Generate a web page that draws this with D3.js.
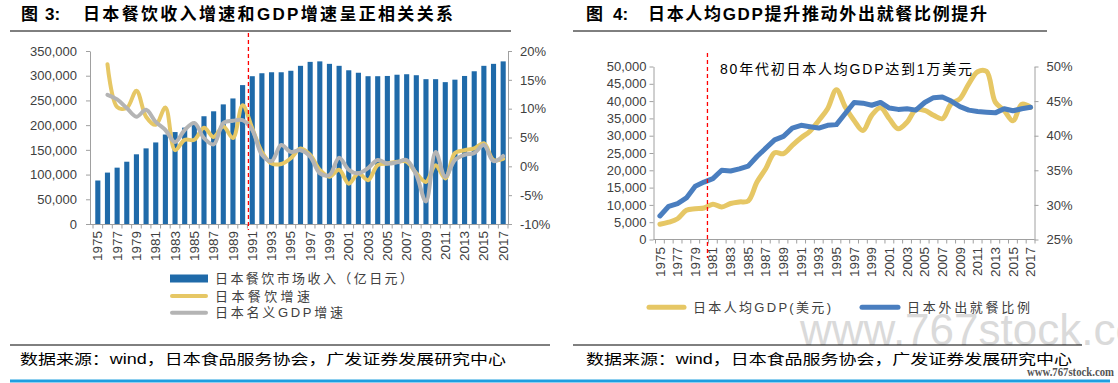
<!DOCTYPE html>
<html><head><meta charset="utf-8">
<script src="https://cdn.jsdelivr.net/npm/d3@7"></script>
<style>
html,body{margin:0;padding:0;background:#fff;}
svg{display:block;}
</style></head><body>
<svg id="c" width="1118" height="383"></svg>
<script>
// ---------- DATA ----------
const years = ["1975","1976","1977","1978","1979","1980","1981","1982","1983","1984","1985","1986","1987","1988","1989","1990","1991","1992","1993","1994","1995","1996","1997","1998","1999","2000","2001","2002","2003","2004","2005","2006","2007","2008","2009","2010","2011","2012","2013","2014","2015","2016","2017"];
const yearTickLabels = ["1975","1977","1979","1981","1983","1985","1987","1989","1991","1993","1995","1997","1999","2001","2003","2005","2007","2009","2011","2013","2015","2017"];

// Figure 3
const restaurantRevenue = [88000,104000,114000,126000,141000,153000,165000,181000,186000,195000,201000,218000,228000,242000,254000,281000,299000,305000,307000,307000,310000,320000,328000,329000,324000,320000,311000,306000,299000,299000,299500,302000,303000,301000,293000,293000,287000,292000,299500,309000,320000,324000,329000];
const restaurantGrowth = [null,17.7,10.3,10.1,13.1,8.6,7.2,10.2,2.8,4.6,4.6,6.7,5.1,6.9,4.9,10.6,6.6,2.5,0.5,0.4,1.4,3.1,2.0,-0.6,-1.8,-0.6,-3.0,-1.2,-2.4,0.2,0.5,0.8,0.8,-1.2,-2.7,0.2,-2.1,2.3,2.8,3.1,4.0,1.1,1.3];
const gdpGrowth = [null,12.4,11.6,10.1,8.6,9.8,7.7,6.3,4.2,6.3,7.5,4.9,3.8,7.5,7.9,8.0,6.3,2.0,0.9,3.7,2.5,2.8,1.7,-1.2,-1.5,1.5,-0.6,-1.2,-0.3,1.1,0.5,0.7,1.1,-1.5,-6.1,2.5,-1.8,1.1,2.0,2.3,3.7,0.9,1.8];
const revenueTicks = [0,50000,100000,150000,200000,250000,300000,350000];
const pctTicks = [-10,-5,0,5,10,15,20];

// Figure 4
const gdpPerCapita = [4400,5000,6000,8450,8900,9100,10200,9400,10400,10850,11150,16600,20500,25100,24800,27200,29400,31300,34400,37800,43300,38300,34400,31500,35900,38100,34900,32000,33900,37500,37300,35900,34900,39200,40700,45000,48500,48600,39700,37300,34300,39100,38200];
const eatingOutShare = [28.4,29.8,30.2,31.0,32.7,33.3,33.8,35.0,34.9,35.2,35.6,37.0,38.2,39.4,39.9,41.1,41.5,41.3,41.1,41.5,41.6,43.2,44.8,44.7,44.4,44.8,44.0,43.8,43.9,43.7,44.8,45.5,45.6,45.0,44.2,43.7,43.5,43.4,43.3,43.9,43.6,43.9,44.1];
const gdpPcTicks = [0,5000,10000,15000,20000,25000,30000,35000,40000,45000,50000];
const shareTicks = [25,30,35,40,45,50];

// ---------- STYLE ----------
const LAT = "'Liberation Sans', Arial, 'Noto Sans CJK SC', sans-serif";
const CJK = "'Liberation Sans', 'Noto Sans CJK SC', sans-serif";
const AXIS = "#A0A0A0";
const TXT = "#404040";
const BAR = "#1F6AA9";
const YEL = "#E6C765";
const GRY = "#B4B4B4";
const BLU = "#4A7EBF";

const svg = d3.select("#c");
svg.append("rect").attr("width",1118).attr("height",383).attr("fill","#fff");

// watermark (behind)
svg.append("text").attr("x",800).attr("y",345).attr("font-family",LAT).attr("font-size",44)
  .attr("fill","#DADADA").text("www.767stock.com");

// ---------- TITLES ----------
function title(x0, xNum, xMain, num, main, len){
  const g = svg.append("g").attr("font-family",CJK).attr("font-weight",700).attr("fill","#000").attr("font-size",17);
  g.append("text").attr("x",x0).attr("y",20).text("图");
  g.append("text").attr("x",xNum).attr("y",20).text(num+":");
  g.append("text").attr("x",xMain).attr("y",20).attr("textLength",len).attr("lengthAdjust","spacing").text(main);
}
title(21, 45, 83, "3", "日本餐饮收入增速和GDP增速呈正相关关系", 370);
title(586, 613, 648, "4", "日本人均GDP提升推动外出就餐比例提升", 339);
svg.append("line").attr("x1",10).attr("x2",511).attr("y1",31).attr("y2",31).attr("stroke","#000").attr("stroke-width",1);
svg.append("line").attr("x1",573).attr("x2",1047).attr("y1",31).attr("y2",31).attr("stroke","#000").attr("stroke-width",1);

function styleAxis(g){
  g.select(".domain").attr("stroke",AXIS);
  g.selectAll(".tick line").attr("stroke",AXIS);
  g.selectAll(".tick text").attr("fill",TXT).attr("font-family",LAT).attr("font-size",13);
}

// ---------- FIGURE 3 ----------
{
  const xL = d3.scaleBand().domain(years).range([93,508]).paddingInner(0.47).paddingOuter(0.235);
  const yL = d3.scaleLinear().domain([0,350000]).range([224,51]);
  const yP = d3.scaleLinear().domain([-10,20]).range([224,51]);
  const bw = xL.bandwidth(), step = xL.step();
  const cx = d => xL(d) + bw/2;

  svg.append("g").selectAll("rect").data(restaurantRevenue).join("rect")
    .attr("x",(d,i)=>xL(years[i])).attr("width",bw)
    .attr("y",d=>yL(d)).attr("height",d=>yL(0)-yL(d)).attr("fill",BAR);

  const gl = svg.append("g").attr("transform","translate(90,0)")
    .call(d3.axisLeft(yL).tickValues(revenueTicks).tickFormat(d3.format(",")).tickSize(4).tickSizeOuter(0).tickPadding(9));
  styleAxis(gl);
  const gr = svg.append("g").attr("transform","translate(508,0)")
    .call(d3.axisRight(yP).tickValues(pctTicks).tickFormat(d=>d+"%").tickSize(4).tickSizeOuter(0).tickPadding(8));
  styleAxis(gr);

  // x axis
  svg.append("line").attr("x1",90).attr("x2",508).attr("y1",224.5).attr("y2",224.5).attr("stroke",AXIS);
  svg.append("g").selectAll("line").data(years.concat(["end"])).join("line")
    .attr("x1",(d,i)=> i<years.length ? cx(d)-step/2 : cx(years[years.length-1])+step/2)
    .attr("x2",(d,i)=> i<years.length ? cx(d)-step/2 : cx(years[years.length-1])+step/2)
    .attr("y1",224.5).attr("y2",228.5).attr("stroke",AXIS);
  svg.append("g").selectAll("text").data(yearTickLabels).join("text")
    .attr("transform",d=>`translate(${cx(d)+4.6},231) rotate(-90)`)
    .attr("text-anchor","end").attr("font-family",LAT).attr("font-size",13.5).attr("fill",TXT).text(d=>d);

  const line = d3.line().defined(d=>d!=null).x((d,i)=>cx(years[i])).y(d=>yP(d)).curve(d3.curveCatmullRom.alpha(0.5));
  svg.append("path").datum(restaurantGrowth).attr("d",line).attr("fill","none").attr("stroke",YEL).attr("stroke-width",4).attr("stroke-linejoin","round").attr("stroke-linecap","round");
  svg.append("path").datum(gdpGrowth).attr("d",line).attr("fill","none").attr("stroke",GRY).attr("stroke-width",4).attr("stroke-linejoin","round").attr("stroke-linecap","round");

  const xr = (cx("1990")+cx("1991"))/2 + 1;
  svg.append("line").attr("x1",xr).attr("x2",xr).attr("y1",33).attr("y2",230)
    .attr("stroke","#FF0000").attr("stroke-width",1.3).attr("stroke-dasharray","4,3");

  // legend
  const lg = svg.append("g").attr("font-family",CJK).attr("font-size",13).attr("fill",TXT);
  lg.append("rect").attr("x",170).attr("y",274.5).attr("width",38).attr("height",8).attr("fill",BAR);
  lg.append("line").attr("x1",172).attr("x2",206).attr("y1",296).attr("y2",296).attr("stroke",YEL).attr("stroke-width",4).attr("stroke-linecap","round");
  lg.append("line").attr("x1",172).attr("x2",206).attr("y1",312.7).attr("y2",312.7).attr("stroke",GRY).attr("stroke-width",4).attr("stroke-linecap","round");
  lg.append("text").attr("x",215).attr("y",283).attr("textLength",198).attr("lengthAdjust","spacing").text("日本餐饮市场收入（亿日元）");
  lg.append("text").attr("x",215).attr("y",300.7).attr("textLength",95).attr("lengthAdjust","spacing").text("日本餐饮增速");
  lg.append("text").attr("x",215).attr("y",317.4).attr("textLength",128).attr("lengthAdjust","spacing").text("日本名义GDP增速");
}

// ---------- FIGURE 4 ----------
{
  const xR = d3.scalePoint().domain(years).range([655.5,1035]).padding(0.5);
  const step = xR.step();
  const yG = d3.scaleLinear().domain([0,50000]).range([239.5,66.5]);
  const yS = d3.scaleLinear().domain([25,50]).range([239.5,66.5]);

  const gl = svg.append("g").attr("transform","translate(653.5,0)")
    .call(d3.axisLeft(yG).tickValues(gdpPcTicks).tickFormat(d3.format(",")).tickSize(4).tickSizeOuter(0).tickPadding(3));
  styleAxis(gl);
  const gr = svg.append("g").attr("transform","translate(1034.5,0)")
    .call(d3.axisRight(yS).tickValues(shareTicks).tickFormat(d=>d+"%").tickSize(4).tickSizeOuter(0).tickPadding(8));
  styleAxis(gr);

  svg.append("line").attr("x1",653.5).attr("x2",1034.5).attr("y1",239.5).attr("y2",239.5).attr("stroke",AXIS);
  svg.append("g").selectAll("line").data(years.concat(["end"])).join("line")
    .attr("x1",(d,i)=> i<years.length ? xR(d)-step/2 : xR(years[years.length-1])+step/2)
    .attr("x2",(d,i)=> i<years.length ? xR(d)-step/2 : xR(years[years.length-1])+step/2)
    .attr("y1",239.5).attr("y2",243.5).attr("stroke",AXIS);
  svg.append("g").selectAll("text").data(yearTickLabels).join("text")
    .attr("transform",d=>`translate(${xR(d)+4.6},247) rotate(-90)`)
    .attr("text-anchor","end").attr("font-family",LAT).attr("font-size",13.5).attr("fill",TXT).text(d=>d);

  const lineG = d3.line().x((d,i)=>xR(years[i])).y(d=>yG(d)).curve(d3.curveCatmullRom.alpha(0.5));
  const lineS = d3.line().x((d,i)=>xR(years[i])).y(d=>yS(d));
  svg.append("path").datum(gdpPerCapita).attr("d",lineG).attr("fill","none").attr("stroke",YEL).attr("stroke-width",5).attr("stroke-linejoin","round").attr("stroke-linecap","round");
  svg.append("path").datum(eatingOutShare).attr("d",lineS).attr("fill","none").attr("stroke",BLU).attr("stroke-width",5).attr("stroke-linejoin","round").attr("stroke-linecap","round");

  const xr = (xR("1980")+xR("1981"))/2 - 1;
  svg.append("line").attr("x1",xr).attr("x2",xr).attr("y1",53).attr("y2",258)
    .attr("stroke","#FF0000").attr("stroke-width",1.3).attr("stroke-dasharray","4,3");

  svg.append("text").attr("x",720).attr("y",74).attr("font-family",CJK).attr("font-size",14).attr("fill","#000")
    .attr("textLength",252).attr("lengthAdjust","spacing").text("80年代初日本人均GDP达到1万美元");

  const lg = svg.append("g").attr("font-family",CJK).attr("font-size",13).attr("fill",TXT);
  lg.append("line").attr("x1",649).attr("x2",684).attr("y1",307.3).attr("y2",307.3).attr("stroke",YEL).attr("stroke-width",5).attr("stroke-linecap","round");
  lg.append("line").attr("x1",862).attr("x2",898).attr("y1",307.3).attr("y2",307.3).attr("stroke",BLU).attr("stroke-width",5).attr("stroke-linecap","round");
  lg.append("text").attr("x",693).attr("y",312).attr("textLength",138).attr("lengthAdjust","spacing").text("日本人均GDP(美元)");
  lg.append("text").attr("x",907).attr("y",312).attr("textLength",123).attr("lengthAdjust","spacing").text("日本外出就餐比例");
}

// ---------- FOOTER ----------
svg.append("line").attr("x1",10).attr("x2",550).attr("y1",345).attr("y2",345).attr("stroke","#000").attr("stroke-width",1);
svg.append("line").attr("x1",573).attr("x2",1082).attr("y1",345).attr("y2",345).attr("stroke","#000").attr("stroke-width",1);
const src = "数据来源：wind，日本食品服务协会，广发证券发展研究中心";
svg.append("text").attr("x",20).attr("y",364).attr("font-family",CJK).attr("font-size",14).attr("fill","#000")
  .attr("textLength",486).attr("lengthAdjust","spacingAndGlyphs").text(src);
svg.append("text").attr("x",586).attr("y",364).attr("font-family",CJK).attr("font-size",14).attr("fill","#000")
  .attr("textLength",486).attr("lengthAdjust","spacingAndGlyphs").text(src);
svg.append("line").attr("x1",10).attr("x2",1110).attr("y1",381).attr("y2",381).attr("stroke","#1E9FE0").attr("stroke-width",3);
svg.append("text").attr("x",1027).attr("y",376).attr("font-family","'Liberation Serif', serif").attr("font-weight",700)
  .attr("font-size",11.5).attr("fill","#555").attr("textLength",87).attr("lengthAdjust","spacingAndGlyphs").text("www.767stock.com");
</script>
</body></html>
